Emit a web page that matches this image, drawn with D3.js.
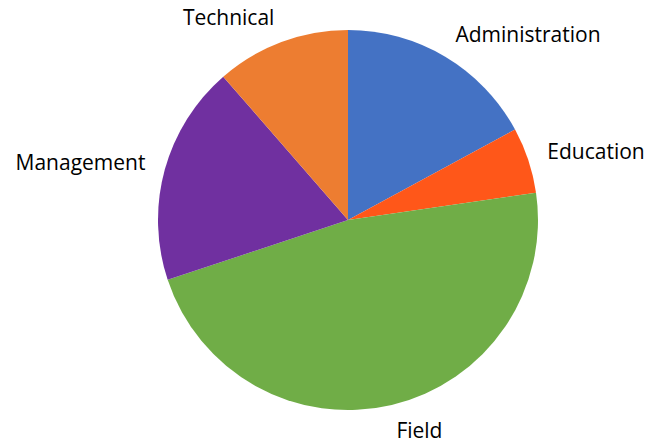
<!DOCTYPE html>
<html>
<head>
  <script src="https://d3js.org/d3.v7.min.js"></script>
  <style>
    body { margin: 0; background: white; }
    text { font-family: "Open Sans", sans-serif; font-size: 21px; fill: #000; }
  </style>
</head>
<body>
<svg id="chart" width="648" height="445"></svg>
<script>
  var categories = ["Administration", "Education", "Field", "Management", "Technical"];
  var shares = [17.1, 5.6, 47.2, 18.7, 11.4];
  var colors = ["#4472c4", "#ff5719", "#70ad47", "#7030a0", "#ed7d31"];

  var cx = 348, cy = 220, r = 190, labelR = 210;
  var data = categories.map((c, i) => ({ name: c, value: shares[i] }));

  var svg = d3.select("#chart");
  var g = svg.append("g").attr("transform", `translate(${cx},${cy})`);

  var pie = d3.pie().value(d => d.value).sort(null);
  var arc = d3.arc().innerRadius(0).outerRadius(r);
  var color = d3.scaleOrdinal(categories, colors);

  var arcs = pie(data);

  g.selectAll("path")
    .data(arcs)
    .join("path")
    .attr("d", arc)
    .attr("fill", d => color(d.data.name));

  // labels sit just outside the rim, anchored toward the slice
  g.selectAll("text")
    .data(arcs)
    .join("text")
    .each(function (d) {
      var a = (d.startAngle + d.endAngle) / 2;
      var px = Math.sin(a) * labelR;
      var py = -Math.cos(a) * labelR;
      d3.select(this)
        .attr("x", px)
        .attr("y", py - Math.cos(a) * 6)
        .attr("dy", "0.35em")
        .attr("text-anchor", px >= 0 ? "start" : "end");
    })
    .text(d => d.data.name);
</script>
</body>
</html>
